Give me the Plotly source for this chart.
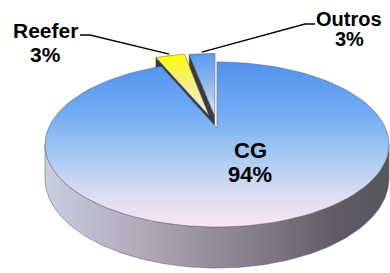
import numpy as np
import plotly.graph_objects as go

# ---- data ----
labels = ["CG", "Reefer", "Outros"]
values = [93.6, 3.4, 3.0]

# ---- style / geometry ----
W, H = 390, 273
cx, cy = 217.0, 128.0          # projected pie centre (pixels)
A, B, k, D = 168.5, 79.2, 0.2, 32.8
explode = [0.0, 0.17, 0.16]
top_scales = [
    [[0, "#5293ee"], [0.3, "#70aaf2"], [0.55, "#a2c8f2"], [0.8, "#dcdcf2"], [1, "#f8e6f4"]],
    [[0, "#ffff00"], [0.45, "#f4f07a"], [1, "#f2f0e6"]],
    [[0, "#5a9af0"], [0.5, "#8fb8ee"], [1, "#e8ecf2"]],
]
cut_colors = [None, "#2c3b52", "#3a3a40"]
side_scale = [[0, "#c8cee2"], [0.3, "#afa6b6"], [0.6, "#877e8c"], [0.85, "#605b65"], [1, "#56565c"]]
edge = "rgba(90,90,105,0.75)"
FONT = "Liberation Sans, Arial, sans-serif"


def proj(X, Z, h=0.0):
    X = np.asarray(X, float)
    Z = np.asarray(Z, float)
    s = 1 + k * Z
    return cx + A * X / s, cy - B * Z / s + h * D / s


total = sum(values)
spans = [v / total * 360 for v in values]
starts = np.cumsum([0] + spans[:-1])
slices = []
for lab, v, a0, sp, e in zip(labels, values, starts, spans, explode):
    a1 = a0 + sp
    m = np.radians(a0 + sp / 2)
    ox, oz = e * np.sin(m), e * np.cos(m)
    slices.append(dict(label=lab, v=v, a0=a0, a1=a1, ox=ox, oz=oz, mid=m))


def arc(sl, t0, t1, r=1.0, n=120):
    t = np.radians(np.linspace(t0, t1, n))
    return sl["ox"] + r * np.sin(t), sl["oz"] + r * np.cos(t)


fig = go.Figure()


def poly(xs, ys, **kw):
    fig.add_trace(go.Scatter(x=np.append(xs, xs[0]), y=np.append(ys, ys[0]),
                             mode="lines", fill="toself", hoverinfo="skip",
                             showlegend=False, **kw))


def top_face(i):
    sl = slices[i]
    X, Z = arc(sl, sl["a0"], sl["a1"])
    X = np.concatenate([[sl["ox"]], X])
    Z = np.concatenate([[sl["oz"]], Z])
    x, y = proj(X, Z)
    poly(x, y, line=dict(color=edge, width=0.7),
         fillgradient=dict(type="vertical", colorscale=top_scales[i],
                           start=float(y.min()), stop=float(y.max())))


def cut_face(i, ang, color):
    sl = slices[i]
    t = np.radians(ang)
    X = np.array([sl["ox"], sl["ox"] + np.sin(t), sl["ox"] + np.sin(t), sl["ox"]])
    Z = np.array([sl["oz"], sl["oz"] + np.cos(t), sl["oz"] + np.cos(t), sl["oz"]])
    h = np.array([0, 0, 1, 1.0])
    x, y = proj(X, Z, h)
    poly(x, y, line=dict(color=color, width=0.5), fillcolor=color)


# back (exploded) slices first
cut_face(2, slices[2]["a1"], "#e2e2e6")
cut_face(2, slices[2]["a0"], cut_colors[2])
top_face(2)
cut_face(1, slices[1]["a0"], cut_colors[1])
top_face(1)

# outer side of CG (front, visible part)
sl = slices[0]
lo = 180 - np.degrees(np.arccos(k))
hi = 180 + np.degrees(np.arccos(k))
X, Z = arc(sl, max(lo, sl["a0"]), min(hi, sl["a1"]), n=160)
xt, yt = proj(X, Z, 0)
xb, yb = proj(X, Z, 1)
poly(np.concatenate([xt, xb[::-1]]), np.concatenate([yt, yb[::-1]]),
     line=dict(color=edge, width=0.7),
     fillgradient=dict(type="horizontal", colorscale=side_scale,
                       start=float(xt.min()), stop=float(xt.max())))
top_face(0)

# leader lines
def rim_point(i, r=1.03):
    s_ = slices[i]
    X = s_["ox"] + r * np.sin(s_["mid"])
    Z = s_["oz"] + r * np.cos(s_["mid"])
    x, y = proj(X, Z)
    return float(x), float(y)

rx, ry = rim_point(1)
fig.add_trace(go.Scatter(x=[80, 90, rx], y=[35, 35, ry], mode="lines",
                         line=dict(color="#000", width=1.3), hoverinfo="skip", showlegend=False))
ox_, oy_ = rim_point(2)
fig.add_trace(go.Scatter(x=[315, 305, ox_], y=[24, 24, oy_], mode="lines",
                         line=dict(color="#000", width=1.3), hoverinfo="skip", showlegend=False))

# labels
pct = [f"{round(v / total * 100)}%" for v in values]
label_pos = {  # (x, y_name, y_pct, size)
    "CG": (250, 150, 174, 22),
    "Reefer": (45, 30, 54.5, 21),
    "Outros": (349, 19, 38.5, 20),
}
for lab, p in zip(labels, pct):
    x, y1, y2, fs = label_pos[lab]
    for txt, yy in ((lab, y1), (p, y2)):
        fig.add_annotation(x=x, y=yy, text=f"<b>{txt}</b>", showarrow=False,
                           xanchor="center", yanchor="middle",
                           font=dict(family=FONT, size=fs, color="#000"))

fig.update_layout(
    width=W, height=H, margin=dict(l=0, r=0, t=0, b=0),
    paper_bgcolor="white", plot_bgcolor="white",
    xaxis=dict(range=[0, W], visible=False, fixedrange=True),
    yaxis=dict(range=[H, 0], visible=False, fixedrange=True),
)
fig.write_html("out.html", config={"displayModeBar": False},
               post_script="document.body.style.margin='0';document.body.style.overflow='hidden';")
